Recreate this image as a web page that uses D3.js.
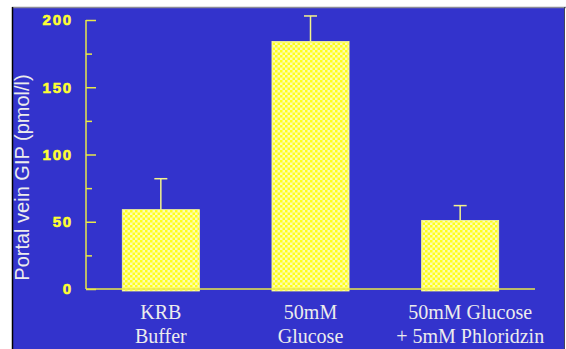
<!DOCTYPE html>
<html>
<head>
<meta charset="utf-8">
<script src="https://cdn.jsdelivr.net/npm/d3@7/dist/d3.min.js"></script>
<style>
  html, body { margin: 0; padding: 0; background: #fff; }
  svg { display: block; }
</style>
</head>
<body>
<div id="chart"></div>
<script>
// Portal vein GIP response to luminal perfusates
const categories = [["KRB", "Buffer"], ["50mM", "Glucose"], ["50mM Glucose", "+ 5mM Phloridzin"]];
const means = [59, 184, 51];
const errors = [23, 19, 11];
const yTicks = [0, 50, 100, 150, 200];
const yMinorTicks = [25, 75, 125, 175];
const yTitle = "Portal vein GIP (pmol/l)";

const W = 566, H = 349;
const svg = d3.select("#chart").append("svg").attr("width", W).attr("height", H);

// checkered bar fill
const defs = svg.append("defs");
const pat = defs.append("pattern").attr("id", "checker")
  .attr("patternUnits", "userSpaceOnUse").attr("width", 5).attr("height", 5);
pat.append("rect").attr("width", 5).attr("height", 5).attr("fill", "#fdfdb0");
pat.append("rect").attr("width", 2.5).attr("height", 2.5).attr("fill", "#ffff1a");
pat.append("rect").attr("x", 2.5).attr("y", 2.5).attr("width", 2.5).attr("height", 2.5).attr("fill", "#ffff1a");

// slide panel
svg.append("rect").attr("x", 13).attr("y", 8).attr("width", 551).attr("height", H - 8).attr("fill", "#3333cc");
svg.append("line").attr("x1", 12).attr("x2", W).attr("y1", 7.5).attr("y2", 7.5).attr("stroke", "#8a8a99").attr("stroke-width", 1.5);
svg.append("line").attr("x1", 12.5).attr("x2", 12.5).attr("y1", 7).attr("y2", H).attr("stroke", "#000").attr("stroke-width", 1.5);
svg.append("line").attr("x1", 564.5).attr("x2", 564.5).attr("y1", 7).attr("y2", H).attr("stroke", "#44445a").attr("stroke-width", 1);

const x0 = 86, x1 = 535;
const x = d3.scaleBand().domain(d3.range(categories.length)).range([x0, x1])
  .paddingInner(0.485).paddingOuter(0.2425);
const y = d3.scaleLinear().domain([0, 200]).range([289, 20]);

const axisColor = "#e8e84a";

// bars
svg.append("g").selectAll("rect").data(means).join("rect")
  .attr("x", (d, i) => x(i))
  .attr("y", d => y(d))
  .attr("width", x.bandwidth())
  .attr("height", d => y(0) - y(d) + 2)
  .attr("fill", "url(#checker)")
  .attr("stroke", "#fcfc9a").attr("stroke-width", 0.8);

// error bars
const eb = svg.append("g").attr("stroke", "#f4f48a").attr("stroke-width", 1.5).attr("fill", "none");
means.forEach((m, i) => {
  const cx = x(i) + x.bandwidth() / 2;
  eb.append("line").attr("x1", cx).attr("x2", cx).attr("y1", y(m)).attr("y2", y(m + errors[i]));
  eb.append("line").attr("x1", cx - 6.5).attr("x2", cx + 6.5).attr("y1", y(m + errors[i])).attr("y2", y(m + errors[i]));
});

// y axis: major ticks with labels, minor ticks, ticks pointing inward
const yAxis = svg.append("g").attr("transform", `translate(${x0},0)`)
  .call(d3.axisRight(y).tickValues(yTicks).tickSize(10).tickFormat(""));
yAxis.select(".domain").remove();
yAxis.selectAll("line").attr("stroke", axisColor).attr("stroke-width", 1.5);
const yMinor = svg.append("g").attr("transform", `translate(${x0},0)`)
  .call(d3.axisRight(y).tickValues(yMinorTicks).tickSize(6).tickFormat(""));
yMinor.select(".domain").remove();
yMinor.selectAll("line").attr("stroke", axisColor).attr("stroke-width", 1.5);

svg.append("line").attr("x1", x0).attr("x2", x0).attr("y1", y(200)).attr("y2", y(0))
  .attr("stroke", axisColor).attr("stroke-width", 1.5);
svg.append("line").attr("x1", x0).attr("x2", x1).attr("y1", y(0)).attr("y2", y(0))
  .attr("stroke", axisColor).attr("stroke-width", 1.5);

svg.append("g").selectAll("text").data(yTicks).join("text")
  .attr("x", 73).attr("y", d => y(d)).attr("dy", "0.36em")
  .attr("text-anchor", "end")
  .attr("font-family", "'Liberation Sans', Arial, sans-serif")
  .attr("font-weight", "bold").attr("font-size", 15).attr("letter-spacing", 1.8)
  .attr("fill", "#ffff33").attr("stroke", "#ffff33").attr("stroke-width", 0.6)
  .text(d => d);

// y axis title
svg.append("text")
  .attr("transform", "translate(29,177.5) rotate(-90)")
  .attr("text-anchor", "middle")
  .attr("font-family", "'Liberation Sans', Arial, sans-serif")
  .attr("font-size", 20).attr("fill", "#ececec")
  .text(yTitle);

// category labels
const labelShift = [0, 0, 10];
const lab = svg.append("g")
  .attr("font-family", "'Liberation Serif', 'Times New Roman', serif")
  .attr("font-size", 20).attr("fill", "#ececec").attr("text-anchor", "middle");
categories.forEach((lines, i) => {
  const cx = x(i) + x.bandwidth() / 2 + labelShift[i];
  lines.forEach((t, j) => {
    lab.append("text").attr("x", cx).attr("y", 319 + j * 23.5).text(t);
  });
});
</script>
</body>
</html>
